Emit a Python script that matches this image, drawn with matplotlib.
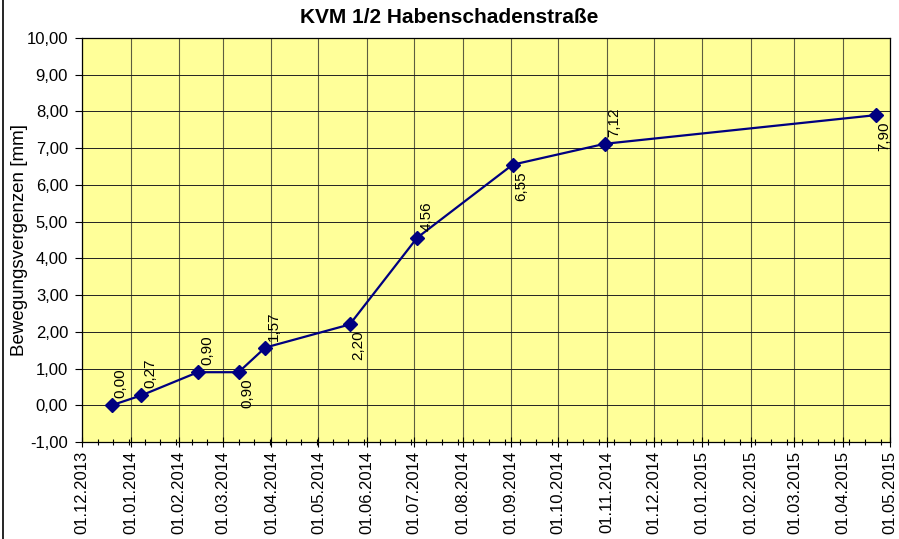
import matplotlib
matplotlib.use("Agg")
import matplotlib.pyplot as plt
import matplotlib.dates as mdates
from matplotlib.ticker import FixedLocator, FuncFormatter, MultipleLocator
from matplotlib.lines import Line2D
import datetime as dt

plt.rcParams['font.family'] = ['Liberation Sans', 'DejaVu Sans']

dates = ["20.12.2013", "08.01.2014", "13.02.2014", "11.03.2014", "28.03.2014",
         "21.05.2014", "03.07.2014", "02.09.2014", "31.10.2014", "22.04.2015"]
values = [0.00, 0.27, 0.90, 0.90, 1.57, 2.20, 4.56, 6.55, 7.12, 7.90]
label_pos = ["above", "above", "above", "below", "above",
             "below", "above", "below", "above", "below"]
title = "KVM 1/2 Habenschadenstraße"
ylabel = "Bewegungsvergenzen [mm]"
x_start = "01.12.2013"
x_end = "01.05.2015"

def parse(s):
    return dt.datetime.strptime(s, "%d.%m.%Y")

xs = [parse(d) for d in dates]
xmin, xmax = parse(x_start), parse(x_end)

fig = plt.figure(figsize=(8.99, 5.39), dpi=100)
ax = fig.add_axes([0.0912, 0.18, 0.8988, 0.7495])
ax.set_facecolor('#FFFF99')

ax.set_xlim(xmin, xmax)
ax.set_ylim(-1, 10)

ax.xaxis.set_major_locator(mdates.MonthLocator(bymonthday=1))
ax.xaxis.set_major_formatter(mdates.DateFormatter('%d.%m.%Y'))
minor = []
d = xmin
while d <= xmax:
    minor.append(mdates.date2num(d))
    d += dt.timedelta(days=10)
ax.xaxis.set_minor_locator(FixedLocator(minor))
ax.yaxis.set_major_locator(MultipleLocator(1))
ax.yaxis.set_major_formatter(FuncFormatter(lambda v, p: f"{v:.2f}".replace('.', ',')))

ax.tick_params(axis='x', which='major', direction='inout', length=7, width=0.8,
               labelsize=12, labelrotation=90, pad=3)
ax.tick_params(axis='x', which='minor', direction='inout', length=5, width=0.8)
ax.tick_params(axis='y', which='major', direction='out', length=5, width=0.8,
               labelsize=12, pad=5)

ax.grid(True, axis='y', which='major', color='#222222', linewidth=0.7)
ax.grid(True, axis='x', which='major', color='#5e5e40', linewidth=0.8)
ax.set_axisbelow(True)
for s in ax.spines.values():
    s.set_linewidth(0.9)
    s.set_color('black')

ax.plot(xs, values, color='#000080', linewidth=1.6, marker='D',
        markersize=7.5, markerfacecolor='#000080', markeredgecolor='#000080', zorder=3)

for x, v, pos in zip(xs, values, label_pos):
    txt = f"{v:.2f}".replace('.', ',')
    if pos == "above":
        ax.annotate(txt, (x, v), xytext=(6.5, 5), textcoords='offset points',
                    rotation=90, ha='center', va='bottom', fontsize=11, zorder=4)
    else:
        ax.annotate(txt, (x, v), xytext=(6, -4.5), textcoords='offset points',
                    rotation=90, ha='center', va='top', fontsize=11, zorder=4)

ax.set_ylabel(ylabel, fontsize=13.5)
ax.yaxis.set_label_coords(-0.0668, 0.5)
fig.text(0.5, 0.9675, title, ha='center', va='center', fontsize=15, fontweight='bold')

fig.add_artist(Line2D([0.003, 0.003], [0, 1], transform=fig.transFigure,
                      color='black', linewidth=1.2))

fig.savefig("out.png", dpi=100)
